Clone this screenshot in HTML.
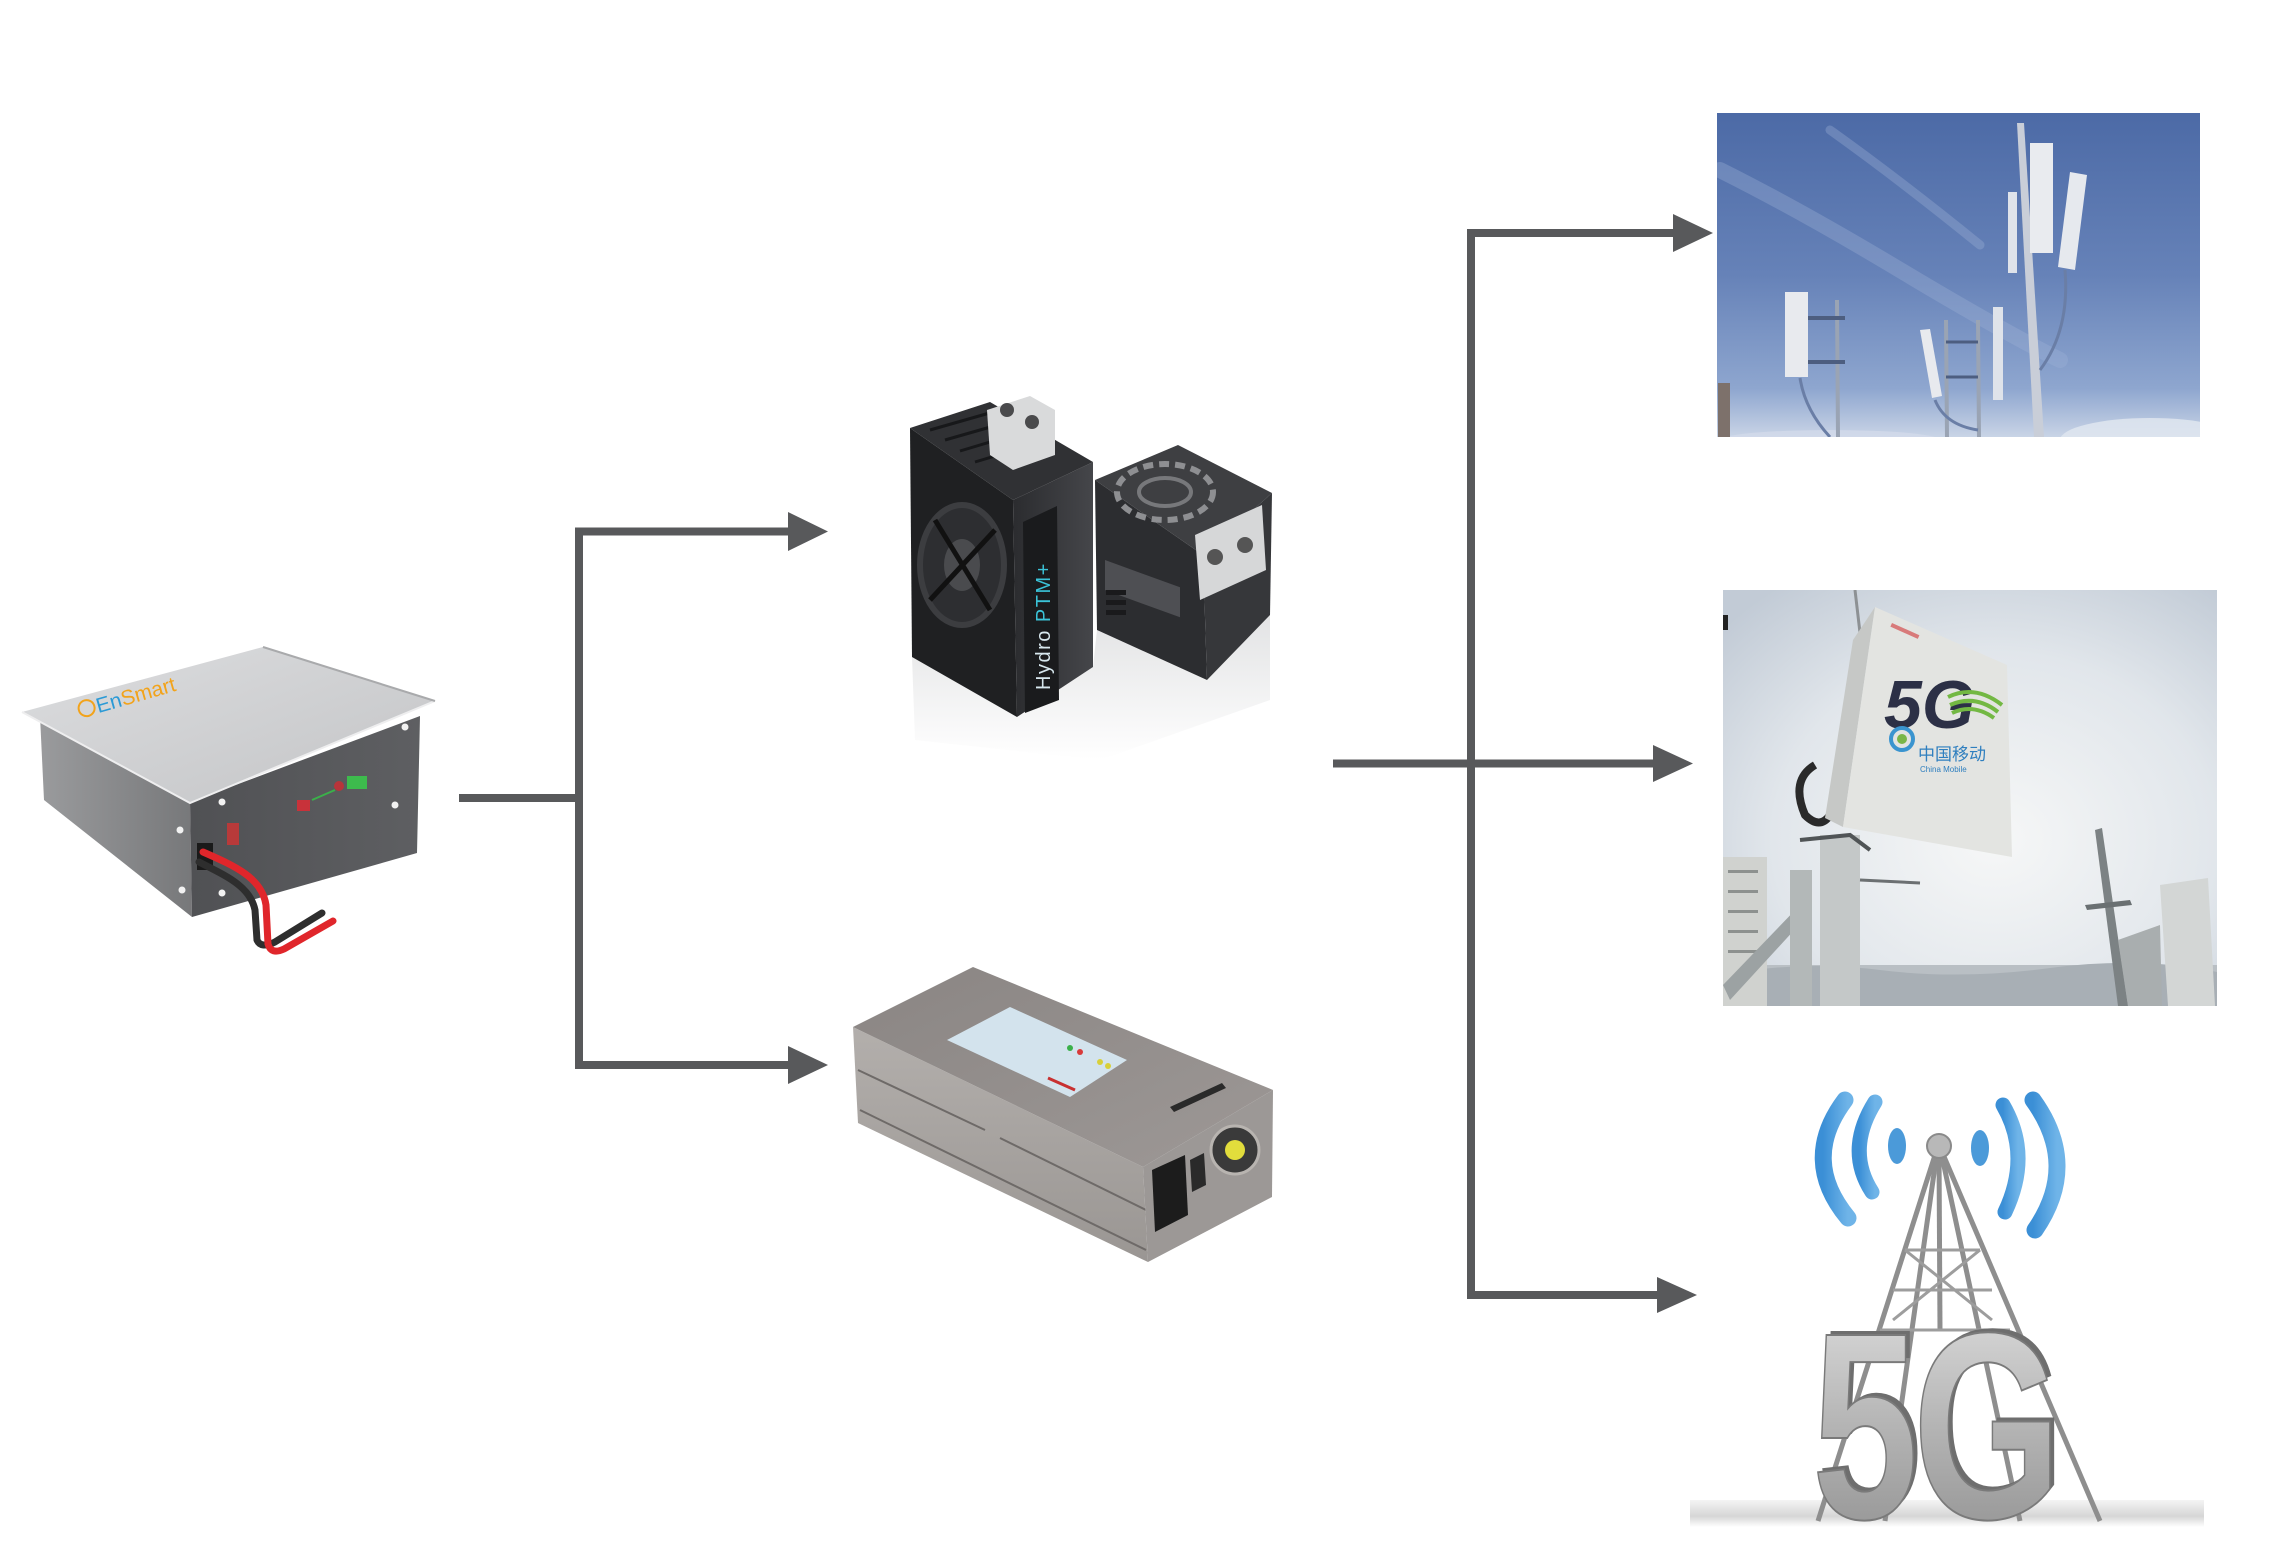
<!DOCTYPE html>
<html>
<head>
<meta charset="utf-8">
<style>
  html,body{margin:0;padding:0;background:#fff;}
  body{width:2275px;height:1544px;overflow:hidden;}
  svg{display:block;}
</style>
</head>
<body>
<svg width="2275" height="1544" viewBox="0 0 2275 1544" xmlns="http://www.w3.org/2000/svg">
  <defs>
    <clipPath id="clipTop"><rect x="1717" y="113" width="483" height="324"/></clipPath>
    <clipPath id="clipMid"><rect x="1723" y="590" width="494" height="416"/></clipPath>
    <linearGradient id="batTop" x1="0" y1="0" x2="1" y2="1">
      <stop offset="0" stop-color="#dcdddf"/>
      <stop offset="1" stop-color="#c3c4c6"/>
    </linearGradient>
    <linearGradient id="batLeft" x1="0" y1="0" x2="1" y2="0">
      <stop offset="0" stop-color="#9a9b9d"/>
      <stop offset="1" stop-color="#77787a"/>
    </linearGradient>
    <linearGradient id="batFront" x1="0" y1="0" x2="1" y2="0">
      <stop offset="0" stop-color="#505154"/>
      <stop offset="1" stop-color="#5e5f62"/>
    </linearGradient>
    <linearGradient id="sky1" x1="0" y1="0" x2="0" y2="1">
      <stop offset="0" stop-color="#4c6aa6"/>
      <stop offset="0.5" stop-color="#6682b8"/>
      <stop offset="0.85" stop-color="#8ea6cf"/>
      <stop offset="1" stop-color="#c9d4e6"/>
    </linearGradient>
    <radialGradient id="sky2" cx="0.55" cy="0.6" r="0.75">
      <stop offset="0" stop-color="#f6f7f7"/>
      <stop offset="0.6" stop-color="#e1e6eb"/>
      <stop offset="1" stop-color="#c2cbd6"/>
    </radialGradient>
    <linearGradient id="psuTop" x1="0" y1="0" x2="1" y2="1">
      <stop offset="0" stop-color="#8a8583"/>
      <stop offset="1" stop-color="#9d9896"/>
    </linearGradient>
    <linearGradient id="psuSide" x1="0" y1="0" x2="0" y2="1">
      <stop offset="0" stop-color="#b3afac"/>
      <stop offset="1" stop-color="#9a9693"/>
    </linearGradient>
    <linearGradient id="blkR" x1="0" y1="0" x2="1" y2="0">
      <stop offset="0" stop-color="#2b2c2f"/>
      <stop offset="1" stop-color="#45464a"/>
    </linearGradient>
    <linearGradient id="refl" x1="0" y1="0" x2="0" y2="1">
      <stop offset="0" stop-color="#cfd0d2"/>
      <stop offset="1" stop-color="#ffffff"/>
    </linearGradient>
    <linearGradient id="silver" x1="0" y1="0" x2="0" y2="1">
      <stop offset="0" stop-color="#e2e2e2"/>
      <stop offset="0.5" stop-color="#b4b4b4"/>
      <stop offset="1" stop-color="#8c8c8c"/>
    </linearGradient>
    <linearGradient id="blue" x1="0" y1="0" x2="1" y2="0">
      <stop offset="0" stop-color="#3b8fd6"/>
      <stop offset="1" stop-color="#6fb4e8"/>
    </linearGradient>
    <linearGradient id="ground" x1="0" y1="0" x2="0" y2="1">
      <stop offset="0" stop-color="#f4f4f4"/>
      <stop offset="0.6" stop-color="#d6d6d6"/>
      <stop offset="1" stop-color="#ffffff"/>
    </linearGradient>
  </defs>

  <!-- ================= CONNECTORS ================= -->
  <g fill="#58595b">
    <rect x="459" y="794" width="122" height="8"/>
    <rect x="575" y="527.5" width="8" height="541.5"/>
    <rect x="575" y="527.5" width="216" height="8"/>
    <polygon points="788,512 828,531.5 788,551"/>
    <rect x="575" y="1061" width="216" height="8"/>
    <polygon points="788,1046 828,1065 788,1084"/>
    <rect x="1467" y="229" width="8" height="1070"/>
    <rect x="1467" y="229" width="208" height="8"/>
    <polygon points="1673,214 1713,233 1673,252"/>
    <rect x="1333" y="759.5" width="322" height="8"/>
    <polygon points="1653,745 1693,763.5 1653,782"/>
    <rect x="1467" y="1291" width="192" height="8"/>
    <polygon points="1657,1277 1697,1295 1657,1313"/>
  </g>

  <!-- ================= BATTERY ================= -->
  <g>
    <polygon points="40,716 190,802 192,917 44,800" fill="url(#batLeft)"/>
    <polygon points="190,802 420,716 417,853 192,917" fill="url(#batFront)"/>
    <polygon points="22,712 263,647 435,701 190,803" fill="url(#batTop)"/>
    <polyline points="22,712 190,803 435,701" fill="none" stroke="#eeeeef" stroke-width="2"/>
    <line x1="263" y1="647" x2="435" y2="701" stroke="#a9aaac" stroke-width="2"/>
    <g transform="rotate(-16 95 712)">
      <ellipse cx="88" cy="706" rx="8" ry="8" fill="none" stroke="#f2a31b" stroke-width="2"/>
      <text x="98" y="714" font-family="Liberation Sans, sans-serif" font-size="21" fill="#f2a31b"><tspan fill="#2b9ad6">En</tspan>Smart</text>
    </g>
    <g fill="#f2f2f2">
      <circle cx="180" cy="830" r="3.5"/><circle cx="182" cy="890" r="3.5"/>
      <circle cx="222" cy="802" r="3.5"/><circle cx="405" cy="727" r="3.5"/>
      <circle cx="395" cy="805" r="3.5"/><circle cx="222" cy="893" r="3.5"/>
    </g>
    <rect x="297" y="800" width="13" height="11" fill="#c8323a"/>
    <line x1="312" y1="800" x2="335" y2="790" stroke="#3bb04a" stroke-width="2"/>
    <circle cx="339" cy="786" r="5" fill="#b8343a"/>
    <rect x="347" y="776" width="20" height="13" fill="#3dbb4d"/>
    <rect x="227" y="823" width="12" height="22" fill="#b83a3a"/>
    <rect x="197" y="843" width="16" height="27" fill="#1a1a1a"/>
    <path d="M199,862 C226,876 250,886 255,910 L257,940 Q261,949 275,942 L322,913" fill="none" stroke="#2e2e2e" stroke-width="7" stroke-linecap="round"/>
    <path d="M203,852 C235,866 262,878 266,905 L268,944 Q271,955 284,949 L333,921" fill="none" stroke="#e0262b" stroke-width="7" stroke-linecap="round"/>
  </g>

  <!-- ================= BLACK PSUs ================= -->
  <g>
    <polygon points="912,657 1017,717 1093,667 1097,630 1207,680 1270,615 1270,700 1100,760 915,740" fill="url(#refl)" opacity="0.6"/>
    <polygon points="1095,480 1203,555 1207,680 1097,630" fill="#2c2d30"/>
    <polygon points="1203,555 1272,493 1270,615 1207,680" fill="#36373a"/>
    <polygon points="1095,480 1178,445 1272,493 1203,555" fill="#3e3f42"/>
    <ellipse cx="1165" cy="492" rx="48" ry="28" fill="none" stroke="#8e8f92" stroke-width="6" stroke-dasharray="10 6"/>
    <ellipse cx="1165" cy="492" rx="26" ry="14" fill="none" stroke="#77787b" stroke-width="4"/>
    <rect x="1105" y="560" width="75" height="30" fill="#4e4f53" transform="skewY(20)" transform-origin="1105 560"/>
    <g fill="#1a1a1c">
      <rect x="1106" y="590" width="20" height="5"/><rect x="1106" y="600" width="20" height="5"/>
      <rect x="1106" y="610" width="20" height="5"/>
    </g>
    <polygon points="1195,535 1262,505 1266,570 1200,600" fill="#d6d7d8"/>
    <circle cx="1215" cy="557" r="8" fill="#555"/><circle cx="1245" cy="545" r="8" fill="#555"/>
    <polygon points="910,428 1013,500 1017,717 912,657" fill="#1f2022"/>
    <polygon points="1013,500 1093,462 1093,667 1017,717" fill="url(#blkR)"/>
    <polygon points="910,428 990,402 1093,462 1013,500" fill="#303134"/>
    <g stroke="#17181a" stroke-width="3">
      <line x1="930" y1="430" x2="1000" y2="410"/><line x1="945" y1="440" x2="1015" y2="420"/>
      <line x1="960" y1="451" x2="1030" y2="430"/><line x1="975" y1="462" x2="1045" y2="441"/>
    </g>
    <polygon points="987,410 1030,396 1055,410 1055,455 1013,470 990,455" fill="#d9dadb"/>
    <circle cx="1007" cy="410" r="7" fill="#4a4a4c"/><circle cx="1032" cy="422" r="7" fill="#4a4a4c"/>
    <ellipse cx="962" cy="565" rx="42" ry="60" fill="#2d2e31" stroke="#3c3d40" stroke-width="6"/>
    <ellipse cx="962" cy="565" rx="18" ry="26" fill="#4a4b4e"/>
    <g stroke="#111" stroke-width="5">
      <line x1="935" y1="520" x2="990" y2="610"/><line x1="930" y1="600" x2="995" y2="530"/>
    </g>
    <polygon points="1023,522 1057,506 1059,700 1025,713" fill="#1a1b1d"/>
    <text transform="translate(1050 690) rotate(-90)" font-family="Liberation Sans, sans-serif" font-size="20" letter-spacing="1.5" fill="#d8e8ef">Hydro <tspan fill="#3bc3d8">PTM+</tspan></text>
  </g>

  <!-- ================= SILVER PSU ================= -->
  <g>
    <polygon points="853,1027 1143,1167 1148,1262 858,1123" fill="url(#psuSide)"/>
    <g stroke="#6e6a68" stroke-width="2">
      <line x1="858" y1="1070" x2="985" y2="1130"/>
      <line x1="1000" y1="1138" x2="1146" y2="1210"/>
      <line x1="860" y1="1110" x2="1146" y2="1250"/>
    </g>
    <polygon points="1143,1167 1273,1090 1272,1197 1148,1262" fill="#9c9896"/>
    <polygon points="853,1027 973,967 1273,1090 1143,1167" fill="url(#psuTop)"/>
    <polygon points="947,1040 1010,1007 1127,1060 1070,1097" fill="#d3e3ed"/>
    <circle cx="1070" cy="1048" r="3" fill="#3ab04a"/><circle cx="1080" cy="1052" r="3" fill="#d83a3a"/>
    <circle cx="1100" cy="1062" r="3" fill="#d8d03a"/><circle cx="1108" cy="1066" r="3" fill="#d8d03a"/>
    <line x1="1048" y1="1078" x2="1075" y2="1090" stroke="#c83030" stroke-width="3"/>
    <polygon points="1170,1107 1222,1083 1226,1088 1174,1112" fill="#2a2a2a"/>
    <circle cx="1235" cy="1150" r="24" fill="#3a3a3a" stroke="#b8b4b0" stroke-width="3"/>
    <circle cx="1235" cy="1150" r="10" fill="#e2dd3c"/>
    <polygon points="1152,1170 1185,1155 1188,1215 1155,1232" fill="#1c1c1c"/>
    <polygon points="1190,1160 1204,1153 1206,1185 1192,1192" fill="#2a2a2a"/>
  </g>

  <!-- ================= TOP PHOTO (antennas) ================= -->
  <g clip-path="url(#clipTop)">
    <rect x="1717" y="113" width="483" height="324" fill="url(#sky1)"/>
    <g stroke="#9fb2d6" stroke-linecap="round" fill="none" opacity="0.35">
      <path d="M1720,170 Q1800,210 1900,270 T2060,360" stroke-width="16"/>
      <path d="M1830,130 Q1900,180 1980,245" stroke-width="9"/>
    </g>
    <ellipse cx="2150" cy="440" rx="90" ry="22" fill="#dfe6f0" opacity="0.85"/>
    <ellipse cx="1830" cy="440" rx="110" ry="10" fill="#d4dceb" opacity="0.7"/>
    <rect x="1718" y="383" width="12" height="54" fill="#7d716b"/>
    <line x1="1837" y1="300" x2="1838" y2="437" stroke="#9aa4b4" stroke-width="4"/>
    <g stroke="#4d5e80" stroke-width="4">
      <line x1="1806" y1="318" x2="1845" y2="318"/><line x1="1806" y1="362" x2="1845" y2="362"/>
    </g>
    <rect x="1785" y="292" width="23" height="85" fill="#e8eaee"/>
    <path d="M1800,378 Q1805,410 1830,437" stroke="#6a7ea6" stroke-width="3" fill="none"/>
    <line x1="1946" y1="320" x2="1947" y2="437" stroke="#9aa4b4" stroke-width="4"/>
    <line x1="1978" y1="320" x2="1979" y2="437" stroke="#9aa4b4" stroke-width="4"/>
    <g stroke="#4d5e80" stroke-width="3">
      <line x1="1946" y1="342" x2="1978" y2="342"/><line x1="1946" y1="377" x2="1978" y2="377"/>
    </g>
    <polygon points="1920,330 1930,329 1942,396 1932,398" fill="#e8eaee"/>
    <rect x="1993" y="307" width="10" height="93" fill="#dfe3ea"/>
    <path d="M1935,400 Q1945,425 1978,430" stroke="#6a7ea6" stroke-width="3" fill="none"/>
    <polygon points="2017,123 2024,123 2044,437 2034,437" fill="#c9ced8"/>
    <rect x="2008" y="192" width="9" height="81" fill="#dfe3ea"/>
    <rect x="2030" y="143" width="23" height="110" fill="#e9ebef"/>
    <polygon points="2070,172 2087,175 2075,270 2058,267" fill="#e6e9ee"/>
    <path d="M2065,270 Q2070,330 2040,370" stroke="#6a7ea6" stroke-width="3" fill="none"/>
  </g>

  <!-- ================= 5G PANEL PHOTO ================= -->
  <g clip-path="url(#clipMid)">
    <rect x="1723" y="590" width="494" height="416" fill="url(#sky2)"/>
    <rect x="1723" y="965" width="494" height="41" fill="#b9bfc4"/>
    <path d="M1723,975 Q1800,960 1880,970 T2050,968 T2217,972 L2217,1006 L1723,1006 Z" fill="#a8afb5"/>
    <rect x="1723" y="857" width="44" height="149" fill="#d0d2cf"/>
    <g fill="#8d918f">
      <rect x="1728" y="870" width="30" height="3"/><rect x="1728" y="890" width="30" height="3"/>
      <rect x="1728" y="910" width="30" height="3"/><rect x="1728" y="930" width="30" height="3"/>
      <rect x="1728" y="950" width="30" height="3"/>
    </g>
    <polygon points="1723,985 1800,905 1808,915 1730,1000" fill="#9ca2a3"/>
    <rect x="1820" y="835" width="40" height="171" fill="#c4c8c8"/>
    <rect x="1790" y="870" width="22" height="136" fill="#b3b8b8"/>
    <line x1="1855" y1="590" x2="1862" y2="650" stroke="#8d9194" stroke-width="3"/>
    <path d="M1815,765 Q1790,780 1805,815 Q1820,830 1830,815" stroke="#2a2a2a" stroke-width="8" fill="none"/>
    <path d="M1800,840 L1850,835 L1870,850" stroke="#505456" stroke-width="4" fill="none"/>
    <line x1="1860" y1="880" x2="1920" y2="883" stroke="#6c7072" stroke-width="3"/>
    <polygon points="1853,640 1875,607 1843,827 1825,818" fill="#c6c8c6"/>
    <polygon points="1875,607 2007,665 2012,857 1843,827" fill="#e3e4e1"/>
    <text x="1884" y="728" font-family="Liberation Sans, sans-serif" font-weight="bold" font-style="italic" font-size="68" fill="#2c3046">5G</text>
    <g fill="none" stroke="#73b843" stroke-width="4">
      <path d="M1948,697 Q1975,684 2002,705"/>
      <path d="M1950,705 Q1975,694 1998,712"/>
      <path d="M1952,713 Q1973,703 1994,718"/>
    </g>
    <circle cx="1902" cy="739" r="11" fill="none" stroke="#3a94cf" stroke-width="4"/>
    <circle cx="1902" cy="739" r="5" fill="#7ab648"/>
    <text x="1918" y="760" font-family="Liberation Sans, 'Noto Sans CJK SC', sans-serif" font-size="17" fill="#2f7fbf">中国移动</text>
    <text x="1920" y="772" font-family="Liberation Sans, sans-serif" font-size="8" fill="#2f7fbf">China Mobile</text>
    <rect x="1892" y="623" width="30" height="4" fill="#d87a7a" transform="rotate(24 1892 623)"/>
    <polygon points="2095,830 2102,828 2128,1006 2118,1006" fill="#7c8284"/>
    <polygon points="2085,905 2130,900 2132,905 2087,910" fill="#6a7072"/>
    <polygon points="2160,885 2208,878 2215,1006 2168,1006" fill="#d3d6d5"/>
    <polygon points="2118,940 2160,925 2162,1006 2128,1006" fill="#a9aeaf"/>
    <rect x="1723" y="615" width="5" height="15" fill="#222"/>
  </g>

  <!-- ================= 5G TOWER ================= -->
  <g>
    <rect x="1690" y="1500" width="514" height="27" fill="url(#ground)"/>
    <g stroke="#8e8e8e" stroke-width="5" fill="none">
      <line x1="1936" y1="1152" x2="1818" y2="1521"/>
      <line x1="1942" y1="1152" x2="2100" y2="1521"/>
      <line x1="1937" y1="1152" x2="1885" y2="1521"/>
      <line x1="1941" y1="1152" x2="2020" y2="1521"/>
      <line x1="1939" y1="1152" x2="1940" y2="1330"/>
    </g>
    <g stroke="#9d9d9d" stroke-width="3" fill="none">
      <line x1="1905" y1="1250" x2="1980" y2="1250"/>
      <line x1="1893" y1="1290" x2="1992" y2="1290"/>
      <line x1="1905" y1="1250" x2="1992" y2="1320"/>
      <line x1="1980" y1="1250" x2="1893" y2="1320"/>
      <line x1="1880" y1="1330" x2="2010" y2="1330"/>
    </g>
    <g fill="none" stroke="url(#blue)" stroke-linecap="round">
      <path d="M1845,1100 Q1800,1160 1848,1218" stroke-width="17"/>
      <path d="M1875,1102 Q1845,1150 1872,1192" stroke-width="15"/>
      <path d="M2033,1100 Q2080,1165 2035,1230" stroke-width="17"/>
      <path d="M2003,1105 Q2032,1155 2005,1212" stroke-width="15"/>
    </g>
    <ellipse cx="1897" cy="1146" rx="9" ry="18" fill="#4b9ad9"/>
    <ellipse cx="1980" cy="1148" rx="9" ry="18" fill="#4b9ad9"/>
    <circle cx="1939" cy="1146" r="12" fill="#b8b8b8" stroke="#8a8a8a" stroke-width="2"/>
    <g transform="translate(1812 1518) scale(0.72 1)">
      <text x="6" y="-4" font-family="Liberation Sans, sans-serif" font-weight="bold" font-size="266" fill="#6e6e6e" letter-spacing="-8">5G</text>
      <text x="0" y="0" font-family="Liberation Sans, sans-serif" font-weight="bold" font-size="266" fill="url(#silver)" stroke="#7a7a7a" stroke-width="2" letter-spacing="-8">5G</text>
    </g>
  </g>
</svg>
</body>
</html>
